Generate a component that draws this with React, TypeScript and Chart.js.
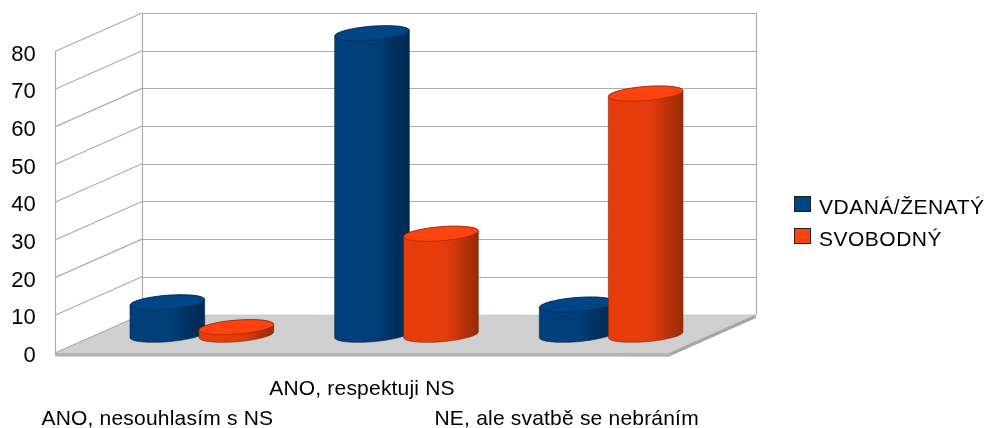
import React, { useEffect, useRef } from "react";
import { Chart, registerables } from "chart.js";

Chart.register(...registerables);

const categories = ["ANO, nesouhlasím s NS", "ANO, respektuji NS", "NE, ale svatbě se nebráním"];
const vdanaZenaty = [8.6, 80, 8];
const svobodny = [2, 26.8, 64];
const seriesNames = ["VDANÁ/ŽENATÝ", "SVOBODNÝ"];
const tops = ["#004586", "#ff420e"];
const outlines = ["#00264a", "#85270a"];
const bands = [
  ["#003f7a", "#003f7a", "#003a70", "#00315f", "#002a52"],
  ["#e63c0c", "#e63c0c", "#d8390b", "#bd330a", "#952b08"],
];

const FONT = '21px "Liberation Sans", Arial, sans-serif';
const DEPTH_X = 87;
const DEPTH_Y = -38.5;
const RY = 7;
const TILT = -0.08;

const scene = {
  id: "scene",
  beforeDraw(chart: any) {
    chart.ctx.letterSpacing = "0.2px";
  },
  beforeDatasetsDraw(chart: any) {
    const { ctx, chartArea: a, scales } = chart;
    const y = scales.y;
    const bx = a.left + DEPTH_X;
    const ex = a.right + DEPTH_X;
    const y0 = y.getPixelForValue(0);
    ctx.save();
    // floor
    ctx.fillStyle = "#a6a6a6";
    ctx.beginPath();
    ctx.moveTo(a.left, y0);
    ctx.lineTo(a.right, y0 + 3.5);
    ctx.lineTo(ex, y0 + DEPTH_Y + 3.5);
    ctx.lineTo(ex, y0 + DEPTH_Y);
    ctx.lineTo(a.left, y0);
    ctx.closePath();
    ctx.fill();
    ctx.fillStyle = "#b3b3b3";
    ctx.fillRect(a.left, y0, a.right - a.left, 3.5);
    ctx.fillStyle = "#cfcfcf";
    ctx.beginPath();
    ctx.moveTo(a.left, y0);
    ctx.lineTo(a.right, y0);
    ctx.lineTo(ex, y0 + DEPTH_Y);
    ctx.lineTo(bx, y0 + DEPTH_Y);
    ctx.closePath();
    ctx.fill();
    // walls and gridlines
    ctx.strokeStyle = "#adadad";
    ctx.lineWidth = 1.2;
    const yt = y.getPixelForValue(y.max);
    ctx.beginPath();
    ctx.moveTo(a.left + 0.5, yt);
    ctx.lineTo(a.left + 0.5, y0);
    ctx.moveTo(bx + 0.5, yt + DEPTH_Y);
    ctx.lineTo(bx + 0.5, y0 + DEPTH_Y);
    ctx.moveTo(ex + 0.5, yt + DEPTH_Y);
    ctx.lineTo(ex + 0.5, y0 + DEPTH_Y);
    y.ticks.forEach((t: any) => {
      const p = y.getPixelForValue(t.value);
      ctx.moveTo(a.left, p);
      ctx.lineTo(bx, p + DEPTH_Y);
      if (t.value !== 0) {
        ctx.moveTo(bx, Math.round(p + DEPTH_Y) + 0.5);
        ctx.lineTo(ex, Math.round(p + DEPTH_Y) + 0.5);
      }
    });
    ctx.stroke();
    ctx.restore();
  },
  afterDatasetsDraw(chart: any) {
    const { ctx, scales } = chart;
    const y0 = scales.y.getPixelForValue(0);
    ctx.save();
    chart.data.datasets.forEach((_: any, di: number) => {
      chart.getDatasetMeta(di).data.forEach((el: any) => {
        const cx = el.x + DEPTH_X / 2 + 1;
        const by = y0 + DEPTH_Y / 2 + 1;
        const ty = el.y + DEPTH_Y / 2 + 1;
        const rx = el.width * 0.543;
        const g = ctx.createLinearGradient(cx - rx, 0, cx + rx, 0);
        const stops = [0, 0.52, 0.64, 0.78, 1];
        bands[di].forEach((c: string, i: number) => g.addColorStop(stops[i], c));
        ctx.beginPath();
        ctx.ellipse(cx, by, rx, RY, TILT, Math.PI, 0, true);
        ctx.ellipse(cx, ty, rx, RY, TILT, 0, Math.PI, true);
        ctx.closePath();
        ctx.fillStyle = g;
        ctx.fill();
        ctx.strokeStyle = outlines[di];
        ctx.lineWidth = 0.6;
        ctx.stroke();
        ctx.beginPath();
        ctx.ellipse(cx, ty, rx, RY, TILT, 0, Math.PI * 2);
        ctx.fillStyle = tops[di];
        ctx.fill();
        ctx.stroke();
      });
    });
    // legend
    ctx.font = FONT;
    ctx.letterSpacing = "0.5px";
    ctx.textBaseline = "middle";
    ctx.textAlign = "left";
    chart.data.datasets.forEach((d: any, i: number) => {
      const top = 196 + i * 32;
      ctx.fillStyle = tops[i];
      ctx.strokeStyle = "#222222";
      ctx.lineWidth = 1;
      ctx.fillRect(794.5, top + 0.5, 16, 15);
      ctx.strokeRect(794.5, top + 0.5, 16, 15);
      ctx.fillStyle = "#000000";
      ctx.fillText(d.label, 819, top + 12);
    });
    ctx.restore();
  },
};

export default function App() {
  const ref = useRef<HTMLCanvasElement>(null);
  useEffect(() => {
    const chart = new Chart(ref.current as HTMLCanvasElement, {
      type: "bar",
      data: {
        labels: categories,
        datasets: [
          { label: seriesNames[0], data: vdanaZenaty, backgroundColor: "transparent", categoryPercentage: 0.674, barPercentage: 1 },
          { label: seriesNames[1], data: svobodny, backgroundColor: "transparent", categoryPercentage: 0.674, barPercentage: 1 },
        ],
      },
      options: {
        responsive: false,
        animation: false,
        layout: { padding: { left: 0, top: 51.5, right: 315, bottom: 0 } },
        plugins: { legend: { display: false }, tooltip: { enabled: false } },
        scales: {
          x: {
            afterFit(s: any) { s.height = 75; },
            grid: { display: false, drawTicks: false },
            border: { display: false },
            ticks: {
              color: "#000000",
              font: { family: '"Liberation Sans", Arial, sans-serif', size: 21, lineHeight: 1.4 },
              padding: 22,
              maxRotation: 0,
              autoSkip: false,
              callback(_: any, i: number) {
                return i % 2 === 1 ? [categories[i], ""] : ["", categories[i]];
              },
            },
          },
          y: {
            min: 0,
            max: 80,
            afterFit(s: any) { s.width = 55; },
            grid: { display: false, drawTicks: false },
            border: { display: false },
            ticks: {
              stepSize: 10,
              color: "#000000",
              padding: 19,
              labelOffset: 3,
              font: { family: '"Liberation Sans", Arial, sans-serif', size: 22 },
            },
          },
        },
      },
      plugins: [scene],
    } as any);
    return () => chart.destroy();
  }, []);
  return (
    <div style={{ position: "absolute", left: 0, top: 0, width: 984, height: 428, background: "#ffffff" }}>
      <canvas ref={ref} width={984} height={428} style={{ display: "block" }} />
    </div>
  );
}
